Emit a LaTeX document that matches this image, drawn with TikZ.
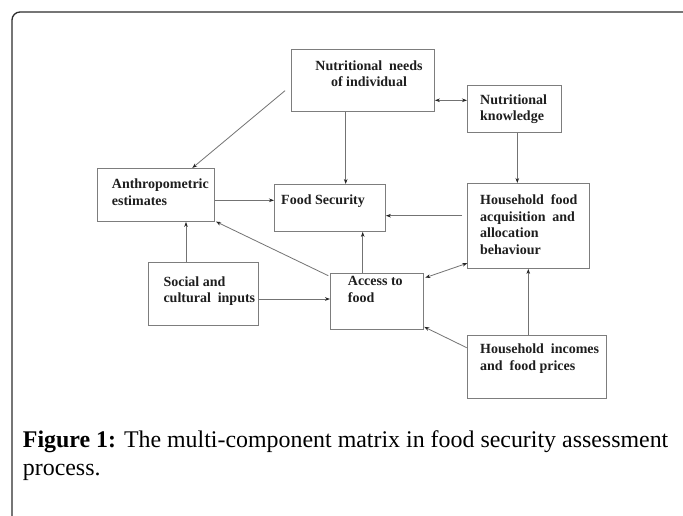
\documentclass[tikz,border=0pt]{standalone}
\usepackage{fontspec}
\setmainfont{Liberation Serif}
\usetikzlibrary{arrows.meta,calc}
\definecolor{boxgray}{RGB}{125,125,125}
\definecolor{arrgray}{RGB}{115,115,115}
\definecolor{txtcol}{RGB}{30,30,30}
\definecolor{framecol}{RGB}{45,45,45}
\newcommand{\xsp}{\hspace{0.24em}}
\begin{document}
\begin{tikzpicture}[x=1pt,y=-1pt,
  box/.style={draw=boxgray, line width=0.9pt, rectangle, inner sep=0pt, anchor=north west},
  txt/.style={inner sep=0pt, anchor=north west, align=left, text=txtcol,
    font=\bfseries\fontsize{14}{16.5}\selectfont},
  arr/.style={draw=arrgray, line width=0.8pt, -{Stealth[length=5pt,width=3.6pt,color=black!85]}},
  biarr/.style={draw=arrgray, line width=0.8pt, {Stealth[length=5pt,width=3.6pt,color=black!85]}-{Stealth[length=5pt,width=3.6pt,color=black!85]}}]
\useasboundingbox (0,0) rectangle (683,516);
\fill[white] (0,0) rectangle (683,516);
% frame
\draw[framecol, line width=1.3pt, rounded corners=8pt] (12,520) -- (12,12) -- (690,12);
% boxes
\node[box, minimum width=143pt, minimum height=62pt] (needs) at (291,49) {};
\node[box, minimum width=94pt, minimum height=47pt] (know) at (467,85) {};
\node[box, minimum width=117pt, minimum height=53pt] (anthro) at (97,168) {};
\node[box, minimum width=111pt, minimum height=47pt] (food) at (274,184) {};
\node[box, minimum width=122pt, minimum height=85pt] (hfood) at (467,183) {};
\node[box, minimum width=110pt, minimum height=63pt] (social) at (148,262) {};
\node[box, minimum width=93pt, minimum height=56pt] (access) at (330,273) {};
\node[box, minimum width=139pt, minimum height=63pt] (incomes) at (467,335) {};
% texts
\node[txt, anchor=north, align=center] (tneeds) at (369,60.5) {Nutritional\xsp\ needs\\of individual};
\node[txt] (tknow) at (480,94.5) {Nutritional\\knowledge};
\node[txt] (tanthro) at (111.7,178.8) {Anthropometric\\estimates};
\node[txt] (tfood) at (281,194.8) {Food Security};
\node[txt] (thfood) at (480,194.5) {Household\xsp\ food\\acquisition\xsp\ and\\allocation\\behaviour};
\node[txt] (tsocial) at (163.3,276.5) {Social and\\cultural\xsp\ inputs};
\node[txt] (taccess) at (347.7,276.5) {Access to\\food};
\node[txt] (tincomes) at (480,343.8) {Household\xsp\ incomes\\and\xsp\ food prices};
% caption
\node[inner sep=0pt, anchor=north west, align=left, text=black,
  font=\fontsize{23.9}{28}\selectfont] (caption) at (22.7,430)
  {\textbf{Figure 1:} The multi-component matrix in food security assessment\\process.};
% connectors
\coordinate (c1) at (285,90.7);
\draw[arr] (c1) -- (192.3,0 |- anthro.north);
\draw[arr] (345.7,0 |- needs.south) -- (345.7,0 |- food.north);
\draw[biarr] (needs.east |- 0,100.3) -- (know.west |- 0,100.3);
\draw[arr] (517.3,0 |- know.south) -- (517.3,0 |- hfood.north);
\draw[arr] (anthro.east |- 0,200.3) -- (food.west |- 0,200.3);
\draw[arr] ($(hfood.west |- 0,215.7)+(-5,0)$) -- (food.east |- 0,215.7);
\draw[arr] (186,0 |- social.north) -- (186,0 |- anthro.south);
\draw[arr] ($(access.north west)+(-1.7,2.7)$) -- ($(anthro.south east)+(1,-0.3)$);
\draw[arr] (362.7,0 |- access.north) -- (362.7,0 |- food.south);
\draw[arr] (social.east |- 0,299) -- (access.west |- 0,299);
\draw[biarr] ($(access.north east)+(1.3,4.7)$) -- ($(hfood.south west)+(0.3,-5.7)$);
\draw[arr] (528.3,0 |- incomes.north) -- (528.3,0 |- hfood.south);
\draw[arr] ($(incomes.north west)+(-0.3,12.7)$) -- ($(access.south east)+(0.3,-3)$);
\end{tikzpicture}
\end{document}
